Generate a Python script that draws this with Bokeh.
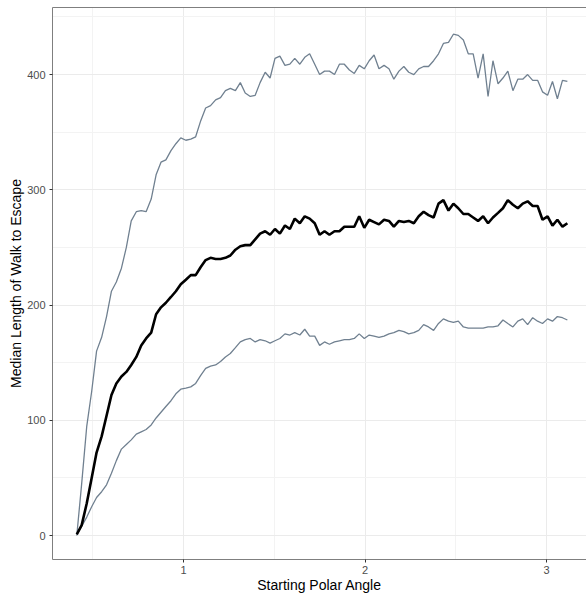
from bokeh.plotting import figure
from bokeh.models import LinearAxis, SingleIntervalTicker, FixedTicker, Range1d
from bokeh.embed import file_html
from bokeh.resources import INLINE

angle = [0.412, 0.439, 0.467, 0.494, 0.521, 0.549, 0.576, 0.603, 0.630, 0.658,
         0.685, 0.712, 0.740, 0.767, 0.794, 0.822, 0.849, 0.876, 0.903, 0.931,
         0.958, 0.985, 1.013, 1.040, 1.067, 1.095, 1.122, 1.149, 1.177, 1.204,
         1.231, 1.258, 1.286, 1.313, 1.340, 1.368, 1.395, 1.422, 1.450, 1.477,
         1.504, 1.531, 1.559, 1.586, 1.613, 1.641, 1.668, 1.695, 1.723, 1.750,
         1.777, 1.804, 1.832, 1.859, 1.886, 1.914, 1.941, 1.968, 1.996, 2.023,
         2.050, 2.077, 2.105, 2.132, 2.159, 2.187, 2.214, 2.241, 2.269, 2.296,
         2.323, 2.350, 2.378, 2.405, 2.432, 2.460, 2.487, 2.514, 2.542, 2.569,
         2.596, 2.623, 2.651, 2.678, 2.705, 2.733, 2.760, 2.787, 2.815, 2.842,
         2.869, 2.896, 2.924, 2.951, 2.978, 3.006, 3.033, 3.060, 3.088, 3.115]

upper = [0, 45, 95, 125, 160, 172, 190, 212, 220, 232,
         250, 273, 281, 282, 281, 292, 313, 324, 326, 334,
         340, 345, 343, 344, 346, 360, 371, 373, 378,
         380, 386, 388, 386, 393, 384, 381, 382, 393, 402,
         397, 414, 416, 408, 409, 414, 409, 415, 418, 409,
         400, 403, 403, 400, 409, 409, 404, 401, 408, 405,
         412, 417, 405, 408, 405, 396, 403,
         407, 402, 400, 405, 407, 407, 412, 418, 427, 428,
         435, 434, 430, 418, 418, 397, 418, 381, 412, 392,
         397, 403, 386, 396, 396, 400, 395, 395, 385, 382,
         394, 379, 395, 394]

median = [1, 9, 28, 50, 72, 86, 104, 122, 132, 138,
          142, 148, 155, 165, 171, 176, 192, 198, 202, 207,
          212, 218, 222, 226, 226, 233, 239, 241, 240,
          240, 241, 243, 248, 251, 252, 252, 257, 262, 264,
          261, 266, 262, 269, 266, 275, 271, 277, 275, 271,
          261, 264, 261, 264, 264, 268, 268, 268, 277, 267,
          274, 272, 270, 274, 273, 268, 273,
          272, 273, 271, 277, 281, 278, 276, 288, 291, 282,
          288, 284, 279, 279, 276, 273, 277, 271, 276, 280,
          284, 291, 287, 284, 288, 290, 286, 286, 274, 277,
          269, 274, 268, 271]

lower = [1, 8, 16, 25, 33, 38, 44, 54, 65, 75,
         79, 83, 88, 90, 92, 96, 102, 107, 112, 117,
         123, 127, 128, 129, 132, 139, 145, 147, 148, 151,
         155, 158, 163,
         168, 170, 171, 168, 170, 169, 167, 169, 171, 175,
         174, 176, 174, 179, 173, 173, 165, 168, 166, 168,
         169, 170, 170, 171, 175, 171, 174, 173, 172, 173,
         175, 176, 178,
         177, 175, 176, 178, 183, 181, 178, 184, 188, 186,
         185, 186, 181, 180, 180, 180, 180, 181, 181, 182,
         187, 184, 181, 186, 188, 183, 189, 186, 184, 188,
         186, 190, 189, 187]

x_title = "Starting Polar Angle"
y_title = "Median Length of Walk to Escape"
x_ticks_interval = 1
y_ticks_interval = 100

FONT = "Liberation Sans"
BAND = "#708090"

p = figure(width=586, height=595, output_backend="svg", toolbar_location=None,
           x_range=Range1d(0.2782, 3.2204), y_range=Range1d(-20.8, 458.2),
           min_border_left=52, min_border_top=7, min_border_right=0, min_border_bottom=36,
           x_axis_label=x_title, y_axis_label=y_title)
p.outline_line_color = None
p.background_fill_color = "white"
p.border_fill_color = "white"

p.xaxis.ticker = SingleIntervalTicker(interval=x_ticks_interval, num_minor_ticks=2)
p.yaxis.ticker = SingleIntervalTicker(interval=y_ticks_interval, num_minor_ticks=2)

for ax in (p.xaxis[0], p.yaxis[0]):
    ax.axis_line_color = "#7F7F7F"
    ax.axis_line_width = 1
    ax.major_tick_line_color = "#333333"
    ax.major_tick_out = 3
    ax.major_tick_in = 0
    ax.minor_tick_line_color = None
    ax.major_label_text_font = FONT
    ax.major_label_text_font_size = "11px"
    ax.major_label_text_color = "#4D4D4D"
    ax.axis_label_text_font = FONT
    ax.axis_label_text_font_size = "14px"
    ax.axis_label_text_font_style = "normal"
    ax.axis_label_text_color = "black"

p.xaxis[0].major_label_standoff = 2
p.xaxis[0].axis_label_standoff = 0
p.yaxis[0].major_label_standoff = 3
p.yaxis[0].axis_label_standoff = 0

top = LinearAxis(ticker=FixedTicker(ticks=[]), major_label_text_font_size="0px",
                 major_tick_out=0, major_tick_in=0, major_label_standoff=0,
                 minor_tick_line_color=None, axis_line_color="#7F7F7F")
p.add_layout(top, "above")

for g in (p.xgrid[0], p.ygrid[0]):
    g.grid_line_color = "#EBEBEB"
    g.grid_line_width = 1
    g.minor_grid_line_color = "#F3F3F3"
    g.minor_grid_line_width = 1

p.line(angle, upper, line_color=BAND, line_width=1.3)
p.line(angle, lower, line_color=BAND, line_width=1.3)
p.line(angle, median, line_color="black", line_width=2.6)

open("out.html", "w").write(file_html(p, INLINE))
